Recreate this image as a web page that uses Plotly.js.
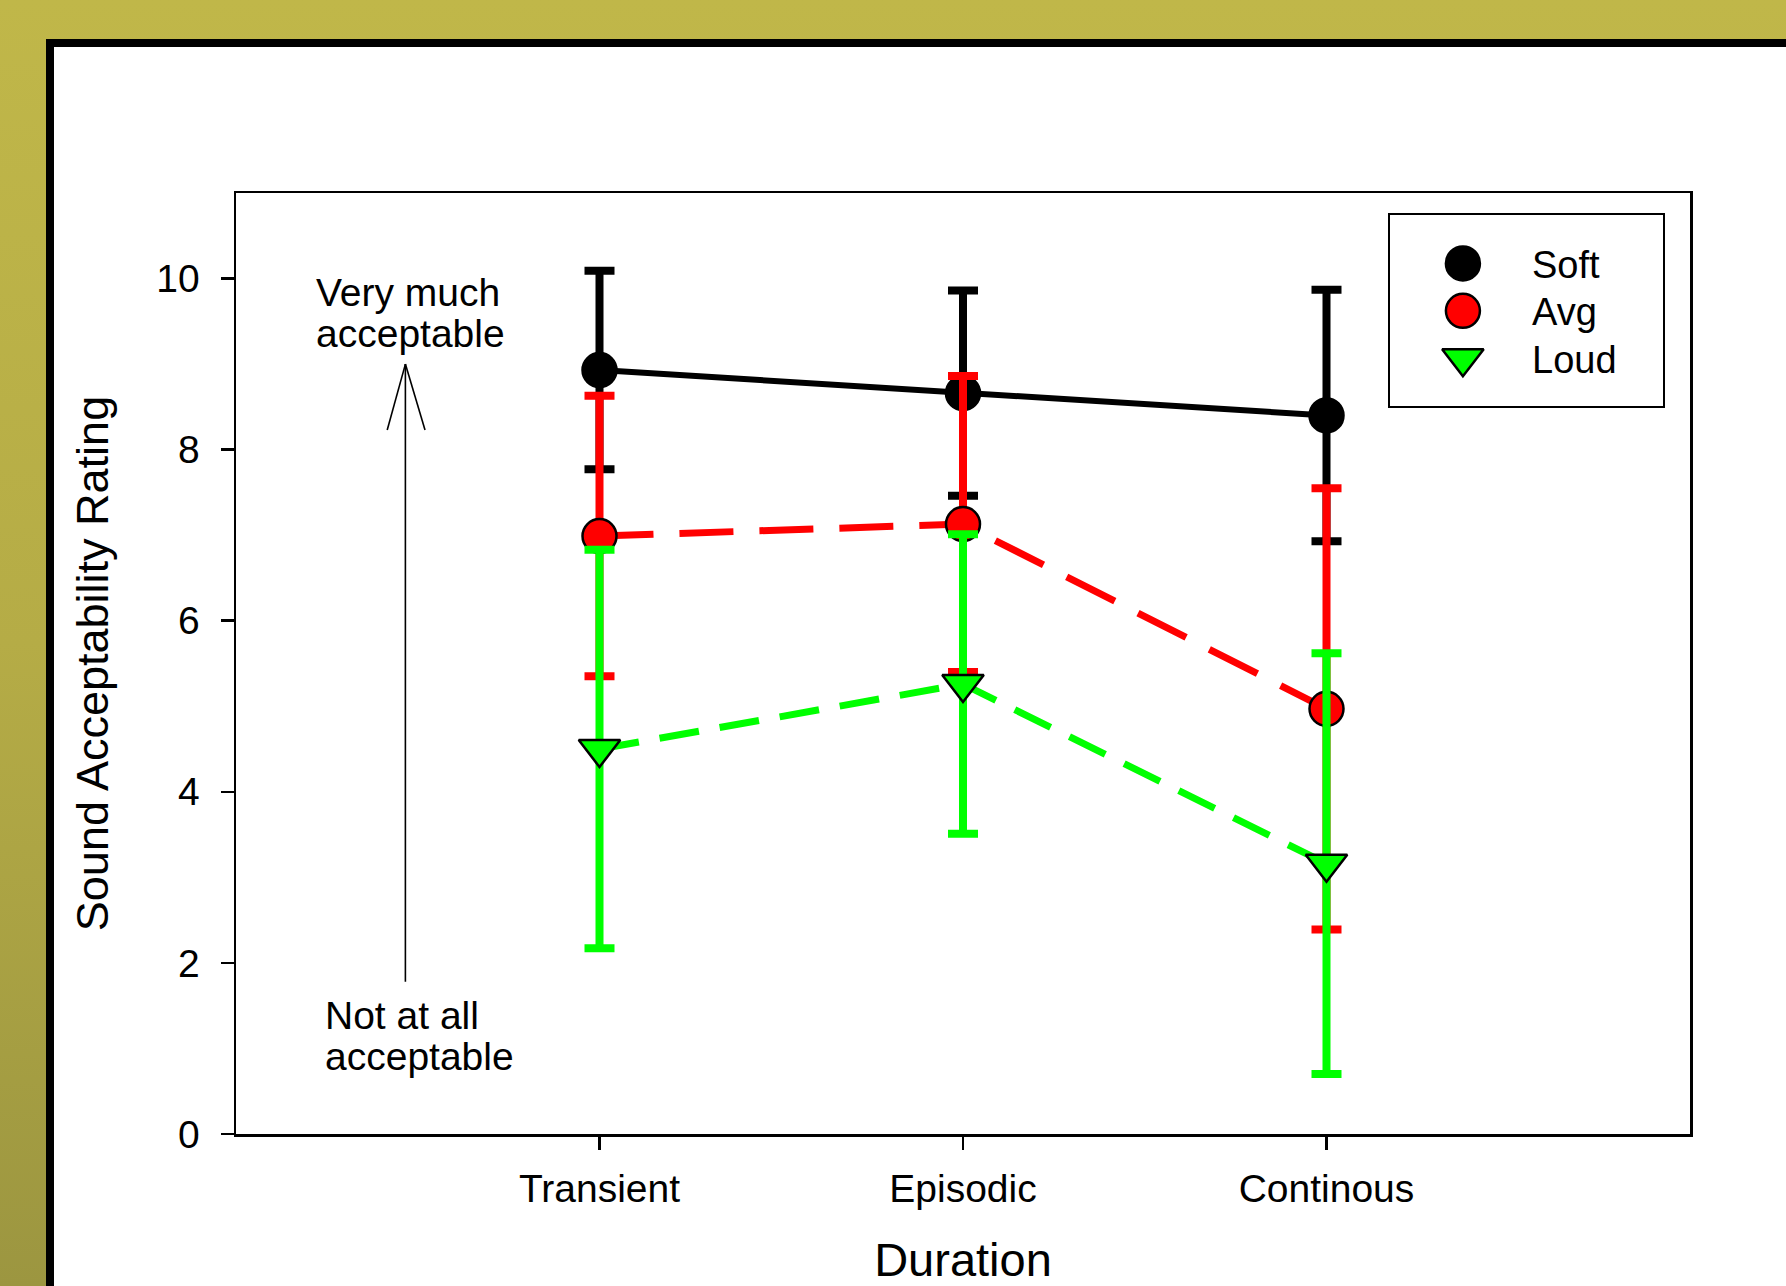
<!DOCTYPE html>
<html><head><meta charset="utf-8">
<script src="https://cdn.plot.ly/plotly-3.0.1.min.js"></script>
<style>
html,body{margin:0;padding:0;width:1786px;height:1286px;overflow:hidden;background:linear-gradient(to bottom,#c0b749 0%,#b5ac46 50%,#9c9640 100%);}
#frame{position:absolute;left:46px;top:39px;width:1800px;height:1300px;background:#fff;border-left:8px solid #000;border-top:8px solid #000;}
#chart{position:absolute;left:0;top:0;width:1786px;height:1286px;}
</style></head><body>
<div id="frame"></div><div id="chart"></div>
<script>
const categories = ['Transient', 'Episodic', 'Continous'];
const seriesNames = ['Soft', 'Avg', 'Loud'];
const softMean = [8.93, 8.66, 8.40];
const softErr  = [1.16, 1.20, 1.47];
const avgMean  = [6.99, 7.13, 4.97];
const avgErr   = [1.64, 1.73, 2.58];
const loudMean = [4.50, 5.26, 3.16];
const loudErr  = [2.33, 1.75, 2.46];
const yTickVals = [0, 2, 4, 6, 8, 10];
const xTitle = 'Duration';
const yTitle = 'Sound Acceptability Rating';
const topNote = ['Very much', 'acceptable'];
const bottomNote = ['Not at all', 'acceptable'];

const FONT = 'Liberation Sans, Arial, sans-serif';
const styles = [
  {color: '#000000', symbol: 'circle', size: 34, dash: 'solid', lw: 6, outline: '#000000'},
  {color: '#ff0000', symbol: 'circle', size: 34, dash: '54px,26px', lw: 7, outline: '#000000'},
  {color: '#00ff00', symbol: 'triangle-down', size: 36, dash: '40px,21px', lw: 7, outline: '#000000'}
];
const means = [softMean, avgMean, loudMean];
const errs = [softErr, avgErr, loudErr];

const traces = [];
means.forEach((m, i) => {
  const s = styles[i];
  traces.push({
    type: 'scatter', mode: 'lines+markers', name: seriesNames[i],
    x: categories, y: m, xaxis: 'x', yaxis: 'y', showlegend: false,
    line: {color: s.color, width: s.lw, dash: s.dash},
    marker: {color: s.color, symbol: s.symbol, size: s.size, line: {color: s.outline, width: 2.5}},
    error_y: {type: 'data', array: errs[i], visible: true, color: s.color, thickness: 8, width: 15},
    cliponaxis: false, hoverinfo: 'x+y'
  });
});
// legend glyphs on a small overlay axis
const legendX = 0.267, legendTextX = 0.513;
seriesNames.forEach((n, i) => {
  const s = styles[i];
  traces.push({
    type: 'scatter', mode: 'markers', name: n, x: [legendX], y: [i],
    xaxis: 'x2', yaxis: 'y2', showlegend: false, hoverinfo: 'skip',
    marker: {color: s.color, symbol: s.symbol, size: s.size, line: {color: s.outline, width: 2.5}},
    cliponaxis: false
  });
});

const annotations = [];
seriesNames.forEach((n, i) => {
  annotations.push({xref: 'x2', yref: 'y2', x: legendTextX, y: i + 0.03, text: n, showarrow: false,
    xanchor: 'left', yanchor: 'middle', font: {family: FONT, size: 38, color: '#000'}});
});
topNote.forEach((t, i) => {
  annotations.push({xref: 'x', yref: 'y', x: -0.786, y: 9.84 - i * 0.48, text: t, showarrow: false,
    xanchor: 'left', yanchor: 'middle', font: {family: FONT, size: 39, color: '#000'}});
});
bottomNote.forEach((t, i) => {
  annotations.push({xref: 'x', yref: 'y', x: -0.762, y: 1.385 - i * 0.48, text: t, showarrow: false,
    xanchor: 'left', yanchor: 'middle', font: {family: FONT, size: 39, color: '#000'}});
});

const arrowLine = {color: '#000', width: 1.6};
const shapes = [
  {type: 'line', xref: 'x', yref: 'y', x0: -0.534, x1: -0.534, y0: 1.78, y1: 9.0, line: arrowLine},
  {type: 'line', xref: 'x', yref: 'y', x0: -0.534, x1: -0.584, y0: 9.0, y1: 8.23, line: arrowLine},
  {type: 'line', xref: 'x', yref: 'y', x0: -0.534, x1: -0.480, y0: 9.0, y1: 8.23, line: arrowLine}
];

const layout = {
  width: 1786, height: 1286,
  margin: {l: 236, r: 96, t: 193, b: 152, pad: 0},
  paper_bgcolor: 'rgba(0,0,0,0)', plot_bgcolor: 'rgba(0,0,0,0)',
  font: {family: FONT, color: '#000'},
  showlegend: false,
  xaxis: {
    type: 'category', range: [-1, 3], domain: [0, 1], anchor: 'y',
    showline: true, mirror: true, linecolor: '#000', linewidth: 2.5,
    ticks: 'outside', ticklen: 13, tickwidth: 2.5, tickcolor: '#000',
    showgrid: false, zeroline: false,
    tickfont: {family: FONT, size: 39, color: '#000'}, ticklabelstandoff: 6,
    title: {text: xTitle, font: {family: FONT, size: 47, color: '#000'}, standoff: 48}
  },
  yaxis: {
    range: [0, 11], domain: [0, 1], anchor: 'x',
    tickvals: yTickVals, ticktext: yTickVals.map(String),
    showline: true, mirror: true, linecolor: '#000', linewidth: 2.5,
    ticks: 'outside', ticklen: 13, tickwidth: 2.5, tickcolor: '#000',
    showgrid: false, zeroline: false,
    tickfont: {family: FONT, size: 39, color: '#000'}, ticklabelstandoff: 13,
    title: {text: yTitle, font: {family: FONT, size: 45, color: '#000'}, standoff: 34}
  },
  xaxis2: {domain: [0.7937, 0.9814], range: [0, 1], anchor: 'y2', showline: true, mirror: true,
    linecolor: '#000', linewidth: 2, showticklabels: false, ticks: '', showgrid: false, zeroline: false, fixedrange: true},
  yaxis2: {domain: [0.7734, 0.9761], range: [3.01, -1.01], anchor: 'x2', showline: true, mirror: true,
    linecolor: '#000', linewidth: 2, showticklabels: false, ticks: '', showgrid: false, zeroline: false, fixedrange: true},
  annotations: annotations,
  shapes: shapes
};

Plotly.newPlot('chart', traces, layout, {displayModeBar: false, staticPlot: true});
</script>
</body></html>
